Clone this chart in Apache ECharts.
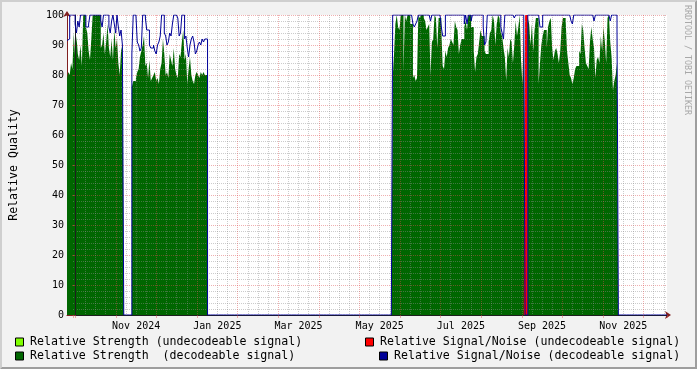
<!DOCTYPE html>
<html><head><meta charset="utf-8">
<script src="https://cdn.jsdelivr.net/npm/echarts@6/dist/echarts.min.js"></script>
<style>html,body{margin:0;padding:0;background:#F2F2F2}#c{width:697px;height:369px}</style>
</head><body><div id="c"></div>
<script>
// ---- data (day index from left edge of the graph) ----
const DAY_COUNT = 444;
const seg1Start = 0, seg2Start = 48, seg3Start = 241;

const strength1 = [79, 81, 80, 84, 82, 94, 86, 93, 87, 85, 90, 83, 100, 100, 96, 94, 88, 85, 92, 100,
  100, 100, 100, 100, 100, 89, 90, 94, 87, 91, 97, 89, 86, 92, 85, 95, 89, 92, 84, 80, 88, 90];
const sn1 = [91.5, 92, 100, 100, 100, 100, 97, 94, 98, 96, 100, 100, 100, 100, 96, 96, 97, 100, 100, 100,
  100, 100, 100, 100, 100, 98, 96, 100, 100, 100, 100, 96, 94, 98, 100, 97, 94, 100, 96, 93, 95, 90];

const strength2 = [76, 78, 78, 79, 81, 82, 86, 88, 90, 93, 83, 84, 79, 85, 78, 79, 80, 81, 78, 79,
  77, 82, 84, 92, 87, 80, 81, 79, 87, 85, 83, 89, 82, 80, 79, 87, 86, 91, 95, 85,
  87, 77, 82, 86, 80, 78, 77, 80, 81, 80, 79, 81, 80, 81, 80, 80];
const sn2 = [87, 100, 100, 100, 91, 90, 88, 89, 100, 100, 99, 95, 95, 90, 89, 89, 90, 88, 87, 90,
  91, 93, 100, 100, 94, 93, 90, 91, 94, 93, 97, 100, 100, 100, 99, 93, 94, 100, 100, 92,
  93, 89, 86, 90, 92, 93, 91, 87, 88, 90, 91, 90, 92, 91, 92, 92];

const strength3 = [
  79, 87, 97, 100, 96, 95, 100, 100, 81, 100,
  98, 100, 100, 97, 97, 79, 80, 78, 79, 100,
  99, 100, 100, 99, 98, 95, 96, 97, 80, 91,
  92, 100, 99, 89, 99, 99, 95, 83, 82, 88,
  86, 89, 90, 92, 91, 90, 98, 96, 95, 87,
  90, 92, 92, 96, 98, 95, 100, 100, 96, 96,
  88, 81, 86, 87, 91, 95, 93, 93, 88, 87,
  87, 91, 94, 95, 100, 98, 90, 97, 100, 99,
  94, 93, 89, 86, 78, 89, 86, 92, 91, 84,
  90, 98, 93, 96, 100, 85, 77, 95, 0, 0,
  99, 97, 90, 97, 88, 95, 99, 99, 77, 84,
  90, 93, 95, 95, 89, 96, 98, 99, 89, 85,
  88, 89, 87, 84, 88, 96, 99, 99, 98, 88,
  84, 80, 79, 77, 79, 82, 83, 83, 88, 87,
  97, 95, 89, 84, 83, 82, 91, 96, 92, 89,
  79, 85, 86, 84, 93, 88, 96, 91, 84, 99,
  100, 91, 86, 75, 78, 80, 84];
const sn3 = [
  100, 100, 100, 100, 100, 100, 100, 100, 100, 100,
  100, 100, 100, 100, 100, 97, 96, 97, 98, 100,
  100, 100, 100, 100, 100, 100, 100, 100, 98, 100,
  100, 100, 100, 100, 100, 100, 96, 93, 93, 100,
  100, 100, 100, 100, 100, 100, 100, 100, 100, 100,
  100, 100, 100, 97, 100, 97, 100, 100, 98, 100,
  100, 100, 100, 100, 100, 100, 100, 96, 90, 91,
  100, 100, 100, 100, 100, 100, 100, 100, 100, 100,
  96, 94, 92, 100, 100, 100, 100, 100, 100, 100,
  99, 100, 100, 100, 100, 100, 100, 100, 0, 0,
  100, 100, 100, 100, 100, 100, 100, 100, 100, 96,
  96, 100, 100, 100, 100, 100, 100, 100, 100, 100,
  100, 100, 100, 100, 100, 100, 100, 100, 100, 100,
  100, 100, 98, 97, 100, 100, 100, 100, 100, 100,
  100, 100, 100, 100, 100, 100, 100, 100, 100, 98,
  100, 100, 100, 100, 100, 100, 100, 100, 100, 100,
  100, 98, 100, 100, 100, 100, 95];

const limeDays = [17, 60, 308, 349];
const limeValues = [88, 81.5, 95.5, 80];
const redDays = [339, 340];
const redValues = [100, 100];

// x-axis grid: uniform months, month 0 = Oct 2024
const monthAxisMin = -0.056, monthAxisMax = 14.578;
const monthLabelPos = [1.5, 3.5, 5.5, 7.5, 9.5, 11.5, 13.5];
const monthLabels = ['Nov 2024', 'Jan 2025', 'Mar 2025', 'May 2025', 'Jul 2025', 'Sep 2025', 'Nov 2025'];

const NAME_SU = 'Relative Strength (undecodeable signal)';
const NAME_SD = 'Relative Strength  (decodeable signal)';
const NAME_NU = 'Relative Signal/Noise (undecodeable signal)';
const NAME_ND = 'Relative Signal/Noise (decodeable signal)';

// ---- build daily series ----
function emptyDays() { const o = []; for (let d = 0; d <= DAY_COUNT; d++) o.push([d, 0]); return o; }
function daily(segs) {
  const out = emptyDays();
  segs.forEach(([start, vals]) => vals.forEach((v, i) => { out[start + i][1] = v; }));
  return out;
}
function sparse(days, vals) { const out = emptyDays(); days.forEach((d, i) => { out[d][1] = vals[i]; }); return out; }

const strengthData = daily([[seg1Start, strength1], [seg2Start, strength2], [seg3Start, strength3]]);
const snData = daily([[seg1Start, sn1], [seg2Start, sn2], [seg3Start, sn3]]);
const limeData = sparse(limeDays, limeValues);
const redData = sparse(redDays, redValues);

const FONT = 'DejaVu Sans Mono';
const GRID = { left: 67, top: 15, width: 600, height: 300 };
const MAJOR = 'rgba(222,79,79,0.45)';
const MINOR = 'rgba(143,143,143,0.45)';
const AXIS = '#1F1F1F';
const ARROW = '#801F1F';

const legendCommon = {
  orient: 'horizontal', padding: 0, itemWidth: 8, itemHeight: 8, icon: 'rect',
  selectedMode: false,
  itemStyle: { borderColor: '#000', borderWidth: 1 },
  textStyle: { fontFamily: FONT, fontSize: 11.6, color: '#000', padding: [0, 0, 0, 1.5] }
};

function areaSeries(name, data, color) {
  return {
    name, type: 'line', step: 'end', data, xAxisIndex: 0, yAxisIndex: 0,
    showSymbol: false, symbol: 'none', color,
    lineStyle: { width: 0 }, areaStyle: { color, opacity: 1 }, z: 2, silent: true
  };
}

const option = {
  animation: false,
  backgroundColor: '#F2F2F2',
  textStyle: { fontFamily: FONT },
  grid: [
    Object.assign({ show: true, backgroundColor: '#FFFFFF', borderWidth: 0 }, GRID),
    Object.assign({ show: false }, GRID)
  ],
  xAxis: [
    { gridIndex: 0, type: 'value', min: 0, max: DAY_COUNT,
      axisLine: { show: true, lineStyle: { color: ARROW, width: 1 }, symbol: ['none', 'arrow'], symbolSize: [6, 6], symbolOffset: [0, 4] },
      axisTick: { show: false }, axisLabel: { show: false }, splitLine: { show: false } },
    { gridIndex: 1, type: 'value', min: monthAxisMin, max: monthAxisMax, minInterval: 1, maxInterval: 1, z: 3,
      axisLine: { show: true, lineStyle: { color: AXIS, width: 1 } },
      axisTick: { show: true, length: 3, lineStyle: { color: MAJOR } },
      axisLabel: { show: true, customValues: monthLabelPos, fontFamily: FONT, fontSize: 10, color: '#000', margin: 6,
        formatter: v => { const i = monthLabelPos.indexOf(v); return i >= 0 ? monthLabels[i] : ''; } },
      splitLine: { show: true, showMinLine: false, showMaxLine: false, lineStyle: { color: MAJOR, type: 'dotted', width: 1 } },
      minorTick: { show: false, splitNumber: 4 },
      minorSplitLine: { show: true, lineStyle: { color: MINOR, type: 'dotted', width: 1 } } }
  ],
  yAxis: [
    { gridIndex: 0, type: 'value', min: 0, max: 100,
      axisLine: { show: true, lineStyle: { color: ARROW, width: 1 }, symbol: ['none', 'arrow'], symbolSize: [6, 6], symbolOffset: [0, 4] },
      axisTick: { show: false }, axisLabel: { show: false }, splitLine: { show: false } },
    { gridIndex: 1, type: 'value', min: 0, max: 100, interval: 10, z: 3,
      name: 'Relative Quality', nameLocation: 'middle', nameRotate: 90, nameGap: 53,
      nameTextStyle: { fontFamily: FONT, fontSize: 11.6, color: '#000' },
      axisLine: { show: true, lineStyle: { color: AXIS, width: 1 } },
      axisTick: { show: true, length: 3, lineStyle: { color: MAJOR } },
      axisLabel: { show: true, fontFamily: FONT, fontSize: 10, color: '#000', margin: 9 },
      splitLine: { show: true, lineStyle: { color: MAJOR, type: 'dotted', width: 1 } },
      minorTick: { show: false, splitNumber: 5 },
      minorSplitLine: { show: true, lineStyle: { color: MINOR, type: 'dotted', width: 1 } } }
  ],
  legend: [
    Object.assign({ data: [NAME_SU], left: 15, top: 336 }, legendCommon),
    Object.assign({ data: [NAME_SD], left: 15, top: 350 }, legendCommon),
    Object.assign({ data: [NAME_NU], left: 365, top: 336 }, legendCommon),
    Object.assign({ data: [NAME_ND], left: 379, top: 350 }, legendCommon)
  ],
  series: [
    areaSeries(NAME_SU, limeData, '#80FF00'),
    areaSeries(NAME_SD, strengthData, '#006600'),
    areaSeries(NAME_NU, redData, '#FF0000'),
    { name: NAME_ND, type: 'line', step: 'end', data: snData, xAxisIndex: 0, yAxisIndex: 0,
      showSymbol: false, symbol: 'none', color: '#000098',
      lineStyle: { width: 1, color: '#000098' }, z: 4, silent: true }
  ],
  graphic: [
    { type: 'polygon', silent: true, z: 100,
      shape: { points: [[0, 0], [697, 0], [695, 2], [2, 2], [2, 367], [0, 369]] }, style: { fill: '#CFCFCF' } },
    { type: 'polygon', silent: true, z: 100,
      shape: { points: [[697, 0], [697, 369], [0, 369], [2, 367], [695, 367], [695, 2]] }, style: { fill: '#9E9E9E' } },
    { type: 'text', silent: true, z: 100, x: 691, y: 5, rotation: -Math.PI / 2,
      style: { text: 'RRDTOOL / TOBI OETIKER', fill: '#A8A8A8', font: '8.3px "DejaVu Sans Mono"', textAlign: 'left', textVerticalAlign: 'top' } }
  ]
};

const chart = echarts.init(document.getElementById('c'), null, { renderer: 'canvas' });
chart.setOption(option);
</script></body></html>
